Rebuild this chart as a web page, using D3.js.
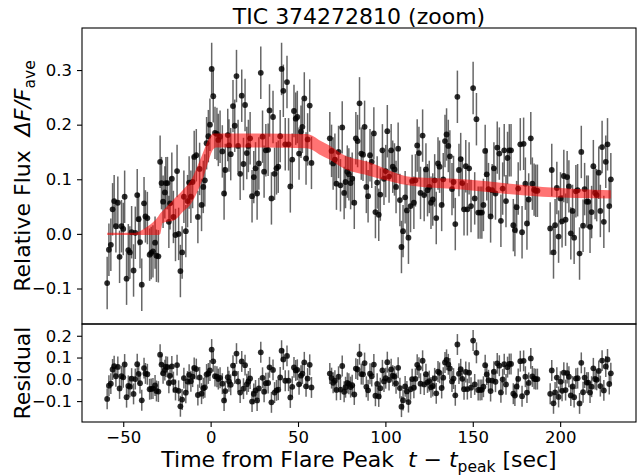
<!DOCTYPE html>
<html>
<head>
<meta charset="utf-8">
<script src="https://cdn.jsdelivr.net/npm/d3@7"></script>
<style>
body { margin: 0; background: #fff; }
text { font-family: "DejaVu Sans", sans-serif; }
</style>
</head>
<body>
<div id="chart"></div>
<script>
// flare light curve
var timeSec = [
  -59.2,-58.2,-57.1,-56.1,-55.2,-54.2,-53.1,-52.1,-51.0,-50.0,
  -49.2,-48.1,-47.1,-46.2,-45.2,-44.1,-43.1,-42.0,-41.2,-40.4,
  -39.4,-38.1,-37.3,-36.2,-34.9,-34.0,-33.0,-31.8,-31.0,-29.9,
  -28.9,-28.1,-27.2,-26.2,-25.6,-24.7,-23.9,-23.2,-22.2,-21.3,
  -20.1,-19.2,-18.3,-17.3,
  -16.3,-15.3,-14.2,-13.2,-12.3,-11.3,-10.3,-9.4,-8.2,-7.3,
  -6.3,-5.2,-4.2,-3.3,-2.3,-1.3,-0.4,0.6,1.5,2.5,
  3.6,4.4,5.4,6.7,7.7,8.4,9.8,10.5,11.5,12.8,
  13.8,14.8,15.7,16.9,17.8,18.8,19.7,20.7,21.6,22.6,
  23.7,24.7,25.7,26.6,27.6,28.7,29.7,30.6,31.6,32.9,
  33.7,34.8,35.7,36.6,
  37.7,38.7,39.8,40.6,41.6,42.7,43.7,44.6,45.6,46.7,
  47.7,48.7,49.6,50.6,51.7,52.5,53.6,54.6,55.5,56.7,57.7,
  68.2,69.2,70.1,71.1,72.0,73.2,74.3,75.3,76.4,77.2,
  78.2,79.1,80.1,81.0,82.2,83.1,84.1,85.2,86.2,87.2,
  88.1,89.1,90.1,
  91.2,92.2,93.4,94.3,95.3,96.2,97.1,98.3,99.2,100.2,
  101.1,102.1,103.3,104.2,105.2,106.1,107.3,108.3,109.2,110.1,
  111.3,112.3,113.2,114.4,115.3,116.3,117.2,118.2,119.2,120.1,
  121.3,122.2,123.2,124.1,125.1,126.1,127.1,128.2,129.1,130.1,
  131.0,132.2,133.1,134.1,135.0,136.0,136.9,138.1,139.0,140.0,
  141.2,142.1,143.1,
  144.0,145.0,146.0,146.9,147.9,149.0,150.2,151.1,152.1,153.1,
  154.2,155.2,156.1,157.1,158.0,159.0,160.2,161.1,162.1,163.0,
  164.0,165.2,166.1,167.1,168.0,169.0,169.9,170.9,171.9,173.2,
  174.1,175.1,176.0,177.2,178.2,179.1,180.1,181.0,182.0,183.2,
  184.1,185.1,186.0,187.0,
  194.3,195.2,196.2,197.1,
  198.1,199.1,200.2,201.1,202.1,203.1,204.0,205.0,206.1,207.1,
  208.0,209.0,210.0,211.1,212.1,213.1,214.0,215.2,216.1,217.1,
  218.0,219.0,220.0,220.9,222.1,223.0,224.0,225.0,226.1,227.1,
  228.1,229.0
];
var relFlux = [
  -0.090,-0.029,-0.020,0.045,0.060,0.014,0.057,-0.042,0.014,0.009,
  0.068,-0.082,-0.030,-0.034,0.003,-0.067,0.002,0.071,0.027,-0.015,
  -0.093,0.056,0.032,0.029,-0.038,-0.035,-0.032,-0.016,-0.040,-0.041,
  0.132,0.093,0.059,0.076,0.093,0.093,0.022,0.056,0.101,0.031,
  -0.002,0.115,0.000,-0.068,
  -0.034,0.068,0.005,0.060,0.094,0.068,0.095,0.141,0.144,0.031,
  0.119,0.053,0.086,0.098,0.166,0.179,0.200,0.302,0.252,0.185,
  0.183,0.172,0.178,0.151,0.074,0.117,0.181,0.162,0.146,0.234,
  0.198,0.289,0.161,0.110,0.253,0.128,0.236,0.148,0.161,0.175,
  0.069,0.104,0.120,0.074,0.129,0.295,0.178,0.114,0.153,0.154,
  0.226,0.065,0.214,0.110,
  0.120,0.123,0.179,0.302,0.262,0.164,0.278,0.164,0.087,0.136,
  0.225,0.211,0.214,0.147,0.187,0.196,0.248,0.138,0.173,0.235,0.130,
  0.175,0.152,0.129,0.136,0.092,0.150,0.089,0.195,0.075,0.095,
  0.114,0.109,0.093,0.101,0.057,0.175,0.170,0.239,0.147,0.145,
  0.196,0.086,0.069,
  0.144,0.132,0.184,0.040,0.094,0.035,0.072,0.153,0.101,0.115,
  0.188,0.105,0.153,0.123,0.118,0.086,0.156,0.062,-0.024,0.005,
  0.067,0.043,-0.007,0.051,0.097,0.057,0.098,0.162,0.148,0.075,
  0.180,0.071,0.118,0.080,0.086,0.057,0.063,0.098,0.029,0.129,
  0.123,0.053,0.100,0.170,0.182,0.161,0.142,0.082,0.095,0.018,
  0.251,0.117,0.137,
  0.093,0.045,0.124,0.045,0.120,0.051,0.267,0.065,0.210,0.039,
  0.039,0.039,0.053,0.152,0.109,0.082,0.032,0.080,0.120,0.074,
  0.158,0.147,0.024,0.083,0.153,0.060,0.139,0.153,0.153,0.016,
  0.007,0.049,0.083,0.164,0.003,0.165,0.092,0.019,0.063,0.175,
  0.092,0.081,0.079,0.079,
  0.010,0.117,-0.034,0.016,
  0.084,-0.005,0.065,0.023,0.106,0.026,0.104,0.087,0.001,0.042,
  -0.007,0.078,0.080,-0.036,0.150,0.015,0.082,0.059,0.059,0.013,
  0.040,0.124,0.075,0.071,0.112,0.042,0.159,0.022,0.132,0.164,
  0.051,0.100
];
var fluxErr = 0.048;

// red model band (lower / upper edge)
var modelTime = [-59.2,-44,-36,-30,-28.8,-27.5,-20.7,-16,-11,-6.5,
                 -4,-2,0,1.5,3,10,30,55,58,62,
                 68,76,90,115,145,190,229];
var modelLow  = [-0.002,-0.002,-0.002,-0.002,0.0,0.02,0.025,0.04,0.056,0.085,
                 0.105,0.125,0.145,0.155,0.158,0.158,0.158,0.157,0.154,0.146,
                 0.136,0.12,0.107,0.088,0.081,0.068,0.065];
var modelHigh = [0.002,0.002,0.014,0.032,0.038,0.042,0.065,0.08,0.1,0.132,
                 0.152,0.168,0.18,0.184,0.184,0.184,0.184,0.183,0.18,0.172,
                 0.162,0.145,0.132,0.104,0.1,0.086,0.08];

var xTicks = [-50, 0, 50, 100, 150, 200];
var fluxTicks = [-0.1, 0.0, 0.1, 0.2, 0.3];
var residTicks = [-0.1, 0.0, 0.1, 0.2];

function init(){
    var w = 641, h = 475;
    var left = 82, right = 636;
    var topY = 28, midY = 324, botY = 422;

    var svg = d3.select("#chart").append("svg")
        .attr("width", w).attr("height", h);

    var xScale = d3.scaleLinear().domain([-73.6, 243.4]).range([left, right]);
    var yTop = d3.scaleLinear().domain([-0.165, 0.377]).range([midY, topY]);
    var yBot = d3.scaleLinear().domain([-0.196, 0.254]).range([botY, midY]);

    var modelMid = modelLow.map(function(d, i){ return (d + modelHigh[i]) / 2; });
    var modelAt = d3.scaleLinear().domain(modelTime).range(modelMid);

    var pts = timeSec.map(function(t, i){
        return {t: t, f: relFlux[i], r: relFlux[i] - modelAt(t)};
    });
    var band = modelTime.map(function(t, i){
        return {t: t, lo: modelLow[i], hi: modelHigh[i]};
    });

    // ---- top panel
    var gTop = svg.append("g");
    gTop.selectAll("line.eb").data(pts).enter().append("line")
        .attr("x1", function(d){ return xScale(d.t); })
        .attr("x2", function(d){ return xScale(d.t); })
        .attr("y1", function(d){ return yTop(d.f - fluxErr); })
        .attr("y2", function(d){ return yTop(d.f + fluxErr); })
        .attr("stroke", "#000").attr("stroke-opacity", 0.6).attr("stroke-width", 1.5);
    gTop.selectAll("circle").data(pts).enter().append("circle")
        .attr("cx", function(d){ return xScale(d.t); })
        .attr("cy", function(d){ return yTop(d.f); })
        .attr("r", 2.9)
        .attr("fill", "#000").attr("fill-opacity", 0.82);

    var area = d3.area()
        .x(function(d){ return xScale(d.t); })
        .y0(function(d){ return yTop(d.lo); })
        .y1(function(d){ return yTop(d.hi); })
        .curve(d3.curveMonotoneX);
    gTop.append("path").datum(band)
        .attr("d", area)
        .attr("fill", "rgb(255,0,0)").attr("fill-opacity", 0.55);

    // ---- residual panel
    var gBot = svg.append("g");
    gBot.selectAll("line.eb").data(pts).enter().append("line")
        .attr("x1", function(d){ return xScale(d.t); })
        .attr("x2", function(d){ return xScale(d.t); })
        .attr("y1", function(d){ return yBot(d.r - fluxErr); })
        .attr("y2", function(d){ return yBot(d.r + fluxErr); })
        .attr("stroke", "#000").attr("stroke-opacity", 0.6).attr("stroke-width", 1.5);
    gBot.selectAll("circle").data(pts).enter().append("circle")
        .attr("cx", function(d){ return xScale(d.t); })
        .attr("cy", function(d){ return yBot(d.r); })
        .attr("r", 2.9)
        .attr("fill", "#000").attr("fill-opacity", 0.82);

    // ---- axes
    var fmt1 = d3.format(".1f");
    function styleAxis(g){
        g.selectAll("text").attr("font-size", "16.5px").attr("fill", "#000")
            .attr("font-family", "DejaVu Sans, sans-serif");
        g.selectAll("line").attr("stroke", "#000").attr("stroke-width", 1.1);
        g.select(".domain").remove();
    }
    svg.append("g").attr("transform", "translate(" + left + ",0)")
        .call(d3.axisLeft(yTop).tickValues(fluxTicks).tickFormat(fmt1).tickSize(5).tickPadding(5))
        .call(styleAxis);
    svg.append("g").attr("transform", "translate(" + left + ",0)")
        .call(d3.axisLeft(yBot).tickValues(residTicks).tickFormat(fmt1).tickSize(5).tickPadding(5))
        .call(styleAxis);
    svg.append("g").attr("transform", "translate(0," + botY + ")")
        .call(d3.axisBottom(xScale).tickValues(xTicks).tickFormat(d3.format("d")).tickSize(5).tickPadding(4))
        .call(styleAxis);

    // frames
    svg.append("rect").attr("x", left).attr("y", topY)
        .attr("width", right - left).attr("height", midY - topY)
        .attr("fill", "none").attr("stroke", "#000").attr("stroke-width", 1.1);
    svg.append("rect").attr("x", left).attr("y", midY)
        .attr("width", right - left).attr("height", botY - midY)
        .attr("fill", "none").attr("stroke", "#000").attr("stroke-width", 1.1);

    // ---- labels
    svg.append("text")
        .attr("x", (left + right) / 2).attr("y", 24)
        .attr("text-anchor", "middle").attr("font-size", "22px")
        .text("TIC 374272810 (zoom)");

    var yl = svg.append("text")
        .attr("transform", "translate(30," + ((topY + midY) / 2) + ") rotate(-90)")
        .attr("text-anchor", "middle").attr("font-size", "22px");
    yl.append("tspan").text("Relative Flux\u00a0\u00a0");
    yl.append("tspan").attr("font-style", "italic").text("\u0394F/F");
    yl.append("tspan").attr("font-size", "15.5px").attr("dy", 5).text("ave");

    svg.append("text")
        .attr("transform", "translate(30," + ((midY + botY) / 2) + ") rotate(-90)")
        .attr("text-anchor", "middle").attr("font-size", "22px")
        .text("Residual");

    var xl = svg.append("text")
        .attr("x", (left + right) / 2).attr("y", 467)
        .attr("text-anchor", "middle").attr("font-size", "22px");
    xl.append("tspan").text("Time from Flare Peak\u00a0\u00a0");
    xl.append("tspan").attr("font-style", "italic").text("t");
    xl.append("tspan").text("\u00a0\u2212\u00a0");
    xl.append("tspan").attr("font-style", "italic").text("t");
    xl.append("tspan").attr("font-size", "15.5px").attr("dy", 5).text("peak");
    xl.append("tspan").attr("dy", -5).text("\u00a0[sec]");
}

window.onload = init;
</script>
</body>
</html>
